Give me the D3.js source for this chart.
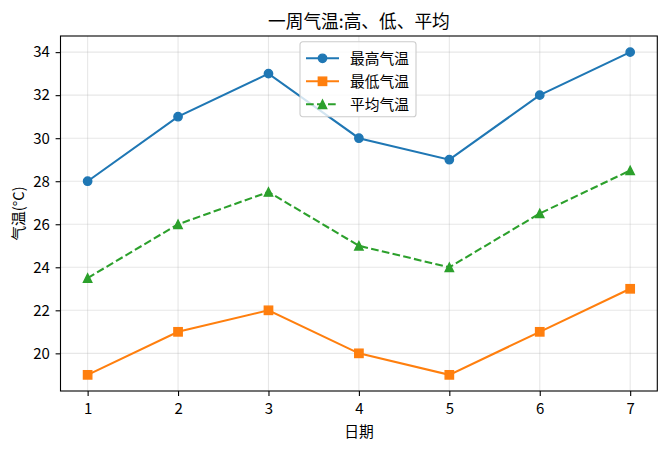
<!DOCTYPE html>
<html>
<head>
<meta charset="utf-8">
<script src="https://cdn.jsdelivr.net/npm/d3@7"></script>
<style>
  body { margin: 0; background: #fff; }
  svg { display: block; font-family: "Noto Sans CJK SC", "Noto Sans", sans-serif; }
</style>
</head>
<body>
<svg id="chart" width="668" height="450"></svg>
<script>
// ======================
// DATA
// ======================
const days = [1, 2, 3, 4, 5, 6, 7];
const highTemps = [28, 31, 33, 30, 29, 32, 34];
const lowTemps = [19, 21, 22, 20, 19, 21, 23];
const avgTemps = [23.5, 26, 27.5, 25, 24, 26.5, 28.5];
const yTicks = [20, 22, 24, 26, 28, 30, 32, 34];
const seriesNames = ["最高气温", "最低气温", "平均气温"];

const series = [
    { name: seriesNames[0], values: highTemps, color: "#1f77b4", marker: "circle", dash: null },
    { name: seriesNames[1], values: lowTemps, color: "#ff7f0e", marker: "square", dash: null },
    { name: seriesNames[2], values: avgTemps, color: "#2ca02c", marker: "triangle", dash: "7.7,3.3" }
];

// ======================
// SETUP
// ======================
const svg = d3.select("#chart");
const margin = { top: 36, right: 10.7, bottom: 59, left: 60.5 };
const width = 668, height = 450;
const innerW = width - margin.left - margin.right;
const innerH = height - margin.top - margin.bottom;
const tickFont = "15px";
const labelFont = "14.75px";

const g = svg.append("g")
    .attr("transform", `translate(${margin.left},${margin.top})`);

// matplotlib-like 5% margins
const xScale = d3.scaleLinear().domain([0.7, 7.3]).range([0, innerW]);
const yScale = d3.scaleLinear().domain([18.25, 34.75]).range([innerH, 0]);

// grid
g.append("g").selectAll("line")
    .data(days).enter().append("line")
    .attr("x1", d => xScale(d)).attr("x2", d => xScale(d))
    .attr("y1", 0).attr("y2", innerH)
    .attr("stroke", "#b0b0b0").attr("stroke-opacity", 0.3).attr("stroke-width", 1.1);
g.append("g").selectAll("line")
    .data(yTicks).enter().append("line")
    .attr("y1", d => yScale(d)).attr("y2", d => yScale(d))
    .attr("x1", 0).attr("x2", innerW)
    .attr("stroke", "#b0b0b0").attr("stroke-opacity", 0.3).attr("stroke-width", 1.1);

// axes
const xAxis = d3.axisBottom(xScale).tickValues(days).tickSize(4.9).tickPadding(7.6).tickFormat(d3.format("d"));
const yAxis = d3.axisLeft(yScale).tickValues(yTicks).tickSize(4.9).tickPadding(5.8).tickFormat(d3.format("d"));

const xAxisG = g.append("g").attr("transform", `translate(0,${innerH})`).call(xAxis);
const yAxisG = g.append("g").call(yAxis);
[xAxisG, yAxisG].forEach(a => {
    a.select(".domain").remove();
    a.selectAll(".tick line").attr("stroke", "#000").attr("stroke-width", 1.1);
    a.selectAll(".tick text").attr("fill", "#000").style("font-size", tickFont)
        .style("font-family", '"Noto Sans CJK SC", sans-serif');
});

// frame
g.append("rect")
    .attr("x", 0).attr("y", 0).attr("width", innerW).attr("height", innerH)
    .attr("fill", "none").attr("stroke", "#000").attr("stroke-width", 1.1);

// ======================
// LINES & MARKERS
// ======================
const line = d3.line()
    .x((d, i) => xScale(days[i]))
    .y(d => yScale(d));

function drawMarker(sel, type, color, cx, cy) {
    const s = 4.17;
    if (type === "circle") {
        sel.append("circle").attr("cx", cx).attr("cy", cy).attr("r", s)
            .attr("fill", color).attr("stroke", color).attr("stroke-width", 1.4);
    } else if (type === "square") {
        sel.append("rect").attr("x", cx - s).attr("y", cy - s)
            .attr("width", 2 * s).attr("height", 2 * s)
            .attr("fill", color).attr("stroke", color).attr("stroke-width", 1.4);
    } else {
        sel.append("path")
            .attr("d", `M${cx},${cy - s}L${cx - s},${cy + s}L${cx + s},${cy + s}Z`)
            .attr("fill", color).attr("stroke", color).attr("stroke-width", 1.4)
            .attr("stroke-linejoin", "miter");
    }
}

series.forEach(s => {
    g.append("path")
        .datum(s.values)
        .attr("d", line)
        .attr("fill", "none")
        .attr("stroke", s.color)
        .attr("stroke-width", 2.08)
        .attr("stroke-dasharray", s.dash)
        .attr("stroke-linecap", "butt");
    const mg = g.append("g");
    s.values.forEach((v, i) => drawMarker(mg, s.marker, s.color, xScale(days[i]), yScale(v)));
});

// ======================
// TEXT
// ======================
svg.append("text")
    .attr("x", margin.left + innerW / 2).attr("y", 27.5)
    .attr("text-anchor", "middle")
    .style("font-size", "17.7px")
    .text("一周气温:高、低、平均");

svg.append("text")
    .attr("x", margin.left + innerW / 2).attr("y", 437.3)
    .attr("text-anchor", "middle")
    .style("font-size", labelFont)
    .text("日期");

svg.append("text")
    .attr("transform", `translate(24,${margin.top + innerH / 2}) rotate(-90)`)
    .attr("text-anchor", "middle")
    .style("font-size", labelFont)
    .text("气温(°C)");

// ======================
// LEGEND
// ======================
const legend = svg.append("g").attr("transform", "translate(300,41.7)");
legend.append("rect")
    .attr("x", 0).attr("y", 0).attr("width", 116).attr("height", 75)
    .attr("rx", 2.8)
    .attr("fill", "#fff").attr("fill-opacity", 0.8)
    .attr("stroke", "#cccccc").attr("stroke-width", 1.1);

series.forEach((s, i) => {
    const cy = 16.6 + i * 23;
    legend.append("line")
        .attr("x1", 6).attr("x2", 39).attr("y1", cy).attr("y2", cy)
        .attr("stroke", s.color).attr("stroke-width", 2.08)
        .attr("stroke-dasharray", s.dash);
    drawMarker(legend, s.marker, s.color, 22.5, cy);
    legend.append("text")
        .attr("x", 50).attr("y", cy)
        .attr("dy", "0.36em")
        .style("font-size", labelFont)
        .text(s.name);
});
</script>
</body>
</html>
